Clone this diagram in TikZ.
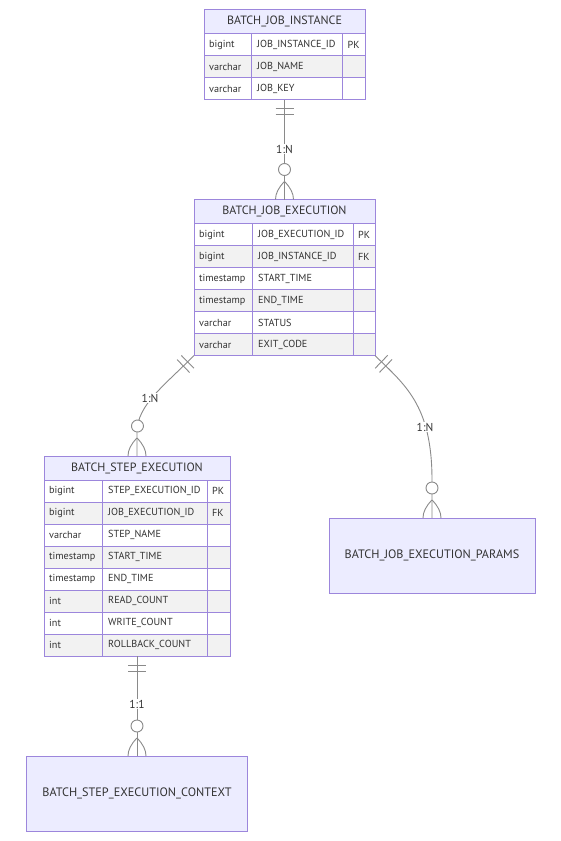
\documentclass[tikz,border=0pt]{standalone}
\usepackage{fontspec}
\setmainfont{PT Sans}
\usetikzlibrary{decorations.markings,calc}
\definecolor{erborder}{HTML}{9C86DC}
\definecolor{ertitle}{HTML}{ECECFF}
\definecolor{eroddrow}{HTML}{FFFFFF}
\definecolor{erevenrow}{HTML}{F2F2F2}
\definecolor{ertext}{HTML}{333333}
\definecolor{relline}{HTML}{8A8A8A}

\tikzset{
  bw/.style={line width=1pt},
  celltext/.style={font=\fontsize{10.2}{12}\selectfont, text=ertext, inner sep=0pt, anchor=west},
  titletext/.style={font=\fontsize{12}{14}\selectfont, text=ertext, inner sep=0pt},
  entframe/.style={draw=erborder, line width=1pt, inner sep=0pt, outer sep=0pt, anchor=north west},
  plainent/.style={entframe, fill=ertitle, font=\fontsize{12.2}{14}\selectfont, text=ertext},
  rellabel/.style={font=\fontsize{11.5}{13}\selectfont, text=ertext, fill=white, inner sep=1pt},
  rel/.style={draw=relline, line width=0.9pt, postaction={decorate}, decoration={markings,
     mark=at position 9pt with {\draw[relline, line width=0.9pt] (0pt,-9pt) -- (0pt,9pt);},
     mark=at position 15pt with {\draw[relline, line width=0.9pt] (0pt,-9pt) -- (0pt,9pt);},
     mark=at position -30pt with {\draw[relline, line width=0.9pt, fill=white] (0pt,0pt) circle (6pt);},
     mark=at position -18pt with {\draw[relline, line width=0.9pt] (0pt,0pt) .. controls (6pt,6pt) and (12pt,9pt) .. (18pt,9pt) (0pt,0pt) .. controls (6pt,-6pt) and (12pt,-9pt) .. (18pt,-9pt);}
  }},
}

\newcommand{\erow}[6]{%
  \fill[#5] (\eL,#1) rectangle (\eR,#1+22);
  \draw[erborder, bw] (\eL,#1) -- (\eR,#1) (\eA,#1) -- (\eA,#1+22) (\eB,#1) -- (\eB,#1+22);
  \node[celltext] (#6t) at (\eL+5,#1+11) {#2};
  \node[celltext] (#6n) at (\eA+6,#1+11) {#3};
  \node[celltext] (#6k) at (\eB+5,#1+11) {#4};
}

\begin{document}
\begin{tikzpicture}[x=1pt, y=-1pt]
\useasboundingbox (0,0) rectangle (560,841);
\fill[white] (0,0) rectangle (560,841);

% BATCH_JOB_INSTANCE
\def\eL{204}\def\eA{251}\def\eB{342.5}\def\eR{365}
\fill[ertitle] (\eL,9.5) rectangle (\eR,33.5);
\node[titletext] (jit) at ({(\eL+\eR)/2},21.5) {BATCH\_JOB\_INSTANCE};
\erow{33.5}{bigint}{JOB\_INSTANCE\_ID}{PK}{eroddrow}{jia}
\erow{55.5}{varchar}{JOB\_NAME}{}{erevenrow}{jib}
\erow{77.5}{varchar}{JOB\_KEY}{}{eroddrow}{jic}
\node[entframe, minimum width=161pt, minimum height=90pt] (ji) at (\eL,9.5) {};

% BATCH_JOB_EXECUTION
\def\eL{194}\def\eA{252}\def\eB{353}\def\eR{375}
\fill[ertitle] (\eL,199.5) rectangle (\eR,223.5);
\node[titletext] (jet) at ({(\eL+\eR)/2},211.5) {BATCH\_JOB\_EXECUTION};
\erow{223.5}{bigint}{JOB\_EXECUTION\_ID}{PK}{eroddrow}{jea}
\erow{245.5}{bigint}{JOB\_INSTANCE\_ID}{FK}{erevenrow}{jeb}
\erow{267.5}{timestamp}{START\_TIME}{}{eroddrow}{jec}
\erow{289.5}{timestamp}{END\_TIME}{}{erevenrow}{jed}
\erow{311.5}{varchar}{STATUS}{}{eroddrow}{jee}
\erow{333.5}{varchar}{EXIT\_CODE}{}{erevenrow}{jef}
\node[entframe, minimum width=181pt, minimum height=156pt] (je) at (\eL,199.5) {};

% BATCH_STEP_EXECUTION
\def\eL{44}\def\eA{102}\def\eB{207}\def\eR{230}
\fill[ertitle] (\eL,456) rectangle (\eR,480);
\node[titletext] (set) at ({(\eL+\eR)/2},468) {BATCH\_STEP\_EXECUTION};
\erow{480}{bigint}{STEP\_EXECUTION\_ID}{PK}{eroddrow}{sea}
\erow{502}{bigint}{JOB\_EXECUTION\_ID}{FK}{erevenrow}{seb}
\erow{524}{varchar}{STEP\_NAME}{}{eroddrow}{sec}
\erow{546}{timestamp}{START\_TIME}{}{erevenrow}{sed}
\erow{568}{timestamp}{END\_TIME}{}{eroddrow}{see}
\erow{590}{int}{READ\_COUNT}{}{erevenrow}{sef}
\erow{612}{int}{WRITE\_COUNT}{}{eroddrow}{seg}
\erow{634}{int}{ROLLBACK\_COUNT}{}{erevenrow}{seh}
\node[entframe, minimum width=186pt, minimum height=200pt] (se) at (\eL,456) {};

% plain entities
\node[plainent, minimum width=206pt, minimum height=75pt] (jp) at (329,518) {BATCH\_JOB\_EXECUTION\_PARAMS};
\node[plainent, minimum width=221pt, minimum height=75pt] (ctx) at (26.5,756) {BATCH\_STEP\_EXECUTION\_CONTEXT};

% relationships
\draw[rel] (ji.south) -- (je.north);
\draw[rel] (je.south west) .. controls (165,385) and (137,405) .. ($(se.north)+(0,-24)$) -- (se.north);
\draw[rel] (je.south east) .. controls (405,385) and (432,405) .. ($(jp.north)+(0,-38)$) -- (jp.north);
\draw[rel] (se.south) -- (ctx.north);

\node[rellabel] (l1) at (284.5,149) {1:N};
\node[rellabel] (l2) at (150,398) {1:N};
\node[rellabel] (l3) at (425,427) {1:N};
\node[rellabel] (l4) at (137,704) {1:1};
\end{tikzpicture}
\end{document}
